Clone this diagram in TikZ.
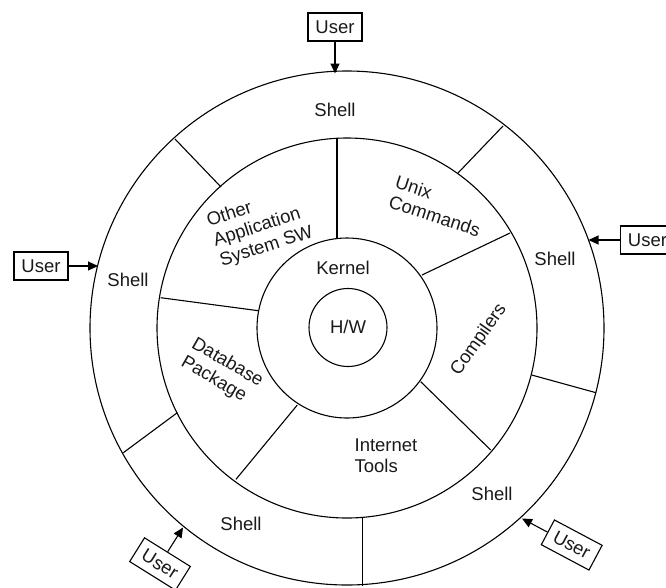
\documentclass[tikz,border=0pt]{standalone}
\usepackage{fontspec}
\setmainfont{Liberation Sans}
\usetikzlibrary{arrows.meta}
\begin{document}
\begin{tikzpicture}[x=1pt,y=-1pt,
  ring/.style={draw=black, line width=1.1pt},
  divider/.style={draw=black, line width=1.1pt},
  lbl/.style={font=\fontsize{18.5}{21}\selectfont, inner sep=0pt, text=black!90},
  userbox/.style={draw=black, line width=1.1pt, font=\fontsize{18.5}{21}\selectfont,
    minimum width=54pt, minimum height=28pt, inner sep=0pt, text=black!90},
  userarrow/.style={-{Triangle[length=10pt,width=9pt]}, line width=1.1pt}]
\useasboundingbox (0,0) rectangle (666,587);

% concentric layers
\coordinate (ctr) at (347,328);
\draw[ring] (ctr) circle[radius=257pt];
\draw[ring] (ctr) circle[radius=190pt];
\draw[ring] (ctr) circle[radius=90pt];
\draw[ring] (348,327.5) circle[radius=39pt];

% shell ring dividers
\draw[divider] (221,187) -- (175,139);
\draw[divider] (458,173) -- (503,126);
\draw[divider] (531.7,375) -- (596,392.7);
\draw[divider] (362.7,517) -- (362.7,586);
\draw[divider] (177.3,412.7) -- (123.3,452.7);

% application ring dividers
\draw[divider] (337,238) -- (337,138);
\draw[divider] (422,275) -- (510,233);
\draw[divider] (420.7,381.7) -- (490.7,450);
\draw[divider] (297.3,405) -- (236,479.3);
\draw[divider] (258.3,310.7) -- (160.7,297.7);

% labels
\node[lbl] (hw) at (348,327) {H/W};
\node[lbl] (kernel) at (343,268) {Kernel};
\node[lbl] (shtop) at (335,110) {Shell};
\node[lbl] (shleft) at (128,280) {Shell};
\node[lbl] (shright) at (555,259) {Shell};
\node[lbl] (shbr) at (492,494) {Shell};
\node[lbl] (shbl) at (241,524) {Shell};
\node[lbl, align=left, rotate=-18] (unix) at (438,206) {Unix\\Commands};
\node[lbl, align=left, rotate=18] (other) at (260,227) {Other\\Application\\System SW};
\node[lbl, align=left, rotate=-30] (db) at (222,372) {Database\\Package};
\node[lbl, rotate=55] (comp) at (479,340) {Compilers};
\node[lbl, align=left] (inet) at (386,456) {Internet\\Tools};

% users
\node[userbox] (utop) at (335,27) {User};
\coordinate (ptop) at (335,73.5);
\draw[userarrow] (utop.south) -- (ptop);

\node[userbox] (uleft) at (41,266) {User};
\coordinate (pleft) at (98,266);
\draw[userarrow] (uleft.east) -- (pleft);

\node[userbox] (uright) at (647.5,240) {User};
\coordinate (pright) at (588.5,240);
\draw[userarrow] (uright.west) -- (pright);

\node[userbox, rotate=-32] (ubl) at (160,564) {User};
\coordinate (pbl) at (183,527.5);
\draw[userarrow] (ubl.north) -- (pbl);

\node[userbox, rotate=-28] (ubr) at (571.7,545) {User};
\coordinate (pbr) at (522,518.5);
\draw[userarrow] (ubr.west) -- (pbr);
\end{tikzpicture}
\end{document}
